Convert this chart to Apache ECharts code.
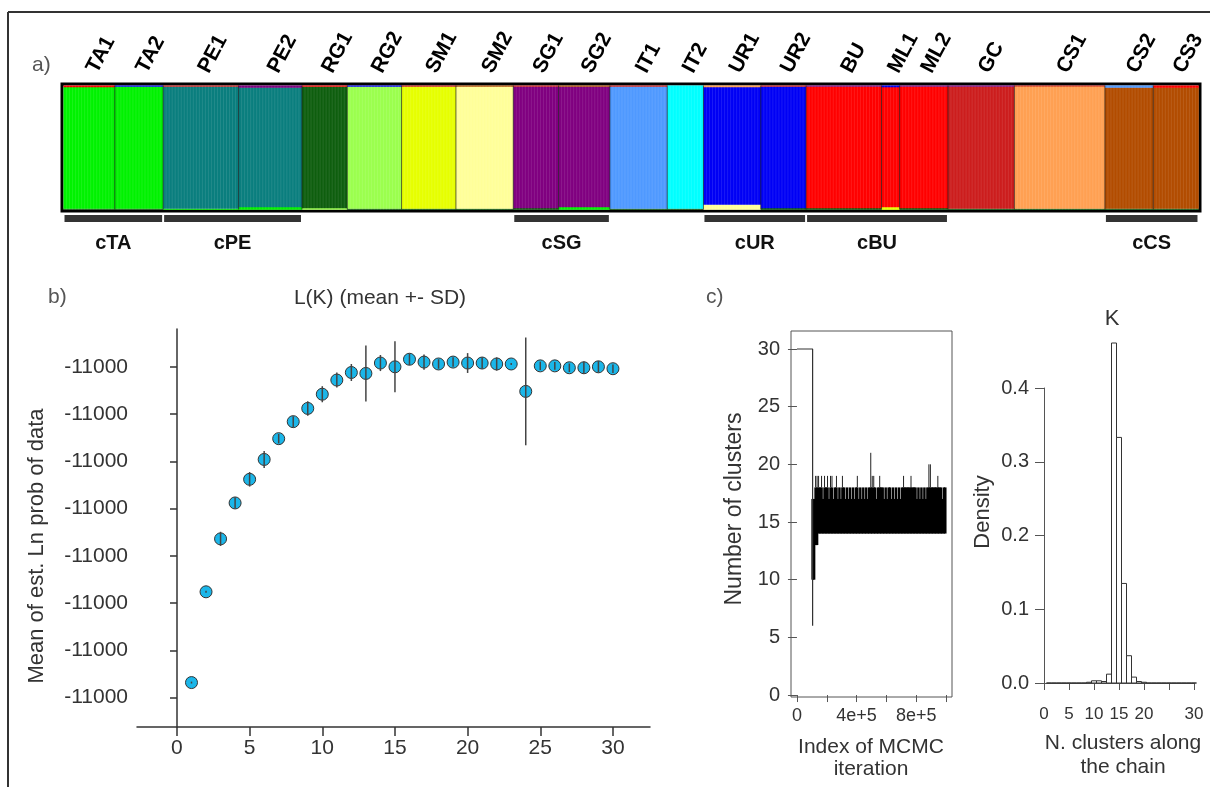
<!DOCTYPE html>
<html><head><meta charset="utf-8">
<script src="https://cdn.jsdelivr.net/npm/echarts@6/dist/echarts.min.js"></script>
<style>html,body{margin:0;padding:0;background:#fff}#c{width:1210px;height:787px}</style>
</head><body><div id="c"></div><script>
// ===== Panel a: STRUCTURE-like membership plot =====
const popNames = ['TA1','TA2','PE1','PE2','RG1','RG2','SM1','SM2','SG1','SG2','IT1','IT2','UR1','UR2','BU','ML1','ML2','GC','CS1','CS2','CS3'];
const popSizes = [17,16,25,21,15,18,18,19,15,17,19,12,19,15,25,6,16,22,30,16,15];
const popCluster = [0,0,1,1,2,3,4,5,6,6,7,8,9,9,10,10,10,11,12,13,13];
const popBottomCluster = [2,2,0,0,3,2,2,2,2,0,2,2,5,2,2,4,2,2,2,2,2];
const popBottomQ = [0.008,0.008,0.008,0.02,0.012,0.008,0.008,0.008,0.012,0.02,0.008,0.008,0.04,0.012,0.012,0.02,0.012,0.008,0.008,0.008,0.008];
const popTopCluster = [10,9,11,6,10,9,11,13,11,13,11,8,12,11,6,9,6,6,11,7,10];
const popTopQ = [0.012,0.008,0.008,0.015,0.008,0.008,0.008,0.008,0.008,0.008,0.008,0,0.012,0.008,0.008,0.012,0.008,0.008,0.005,0.015,0.015];
const clusterColors = ['#00f200','#0a7e7e','#0e5e0e','#9bff4e','#e6ff00','#ffff99','#800080','#4f99ff','#00ffff','#0000f5','#ff0000','#cc1d1d','#ffa052','#b24c00'];
const groupNames = ['cTA','cPE','cSG','cUR','cBU','cCS'];
const groupFirstPop = [0,2,8,12,14,19];
const groupLastPop = [1,3,9,13,16,20];

// ===== Panel b: L(K) mean +- SD =====
const kValues = [1,2,3,4,5,6,7,8,9,10,11,12,13,14,15,16,17,18,19,20,21,22,23,24,25,26,27,28,29,30];
const lnMean = [-11284,-11188,-11132,-11094,-11069,-11048,-11026,-11008,-10994,-10979,-10964,-10956,-10957,-10946,-10950,-10942,-10945,-10947,-10945,-10946,-10946,-10947,-10947,-10976,-10949,-10949,-10951,-10951,-10950,-10952];
const lnSD = [1,1,7.5,6,7.7,9,5,5.6,7.7,8.5,8,9,29.6,8.5,27,6,8,5,5,10.5,6,7,1,57,4.5,4,4.5,6.5,6,4.5];
const lnTicks = [-11300,-11250,-11200,-11150,-11100,-11050,-11000,-10950];
const kTicks = [0,5,10,15,20,25,30];

// ===== Panel c: MCMC trace of number of clusters =====
const traceStart = [[0,30],[105000,30],[105000,6]];
const traceBinFirst = 100000;
const traceBinStep = 10000;
const traceLow = [10,10,13,13,14,14,14,14,14,14,14,14,14,14,14,14,14,14,14,14,14,14,14,14,14,14,14,14,14,14,14,14,14,14,14,14,14,14,14,14,14,14,14,14,14,14,14,14,14,14,14,14,14,14,14,14,14,14,14,14,14,14,14,14,14,14,14,14,14,14,14,14,14,14,14,14,14,14,14,14,14,14,14,14,14,14,14,14,14,14];
const traceHigh = [16,17,19,19,19,18,19,17,19,18,19,17,19,19,17,18,19,17,18,17,19,18,17,18,17,18,17,18,17,18,19,17,18,17,18,17,18,17,18,21,19,19,18,17,18,19,18,18,17,18,17,18,18,17,18,17,18,17,18,17,18,19,18,18,18,18,19,18,18,18,17,18,17,18,17,18,17,18,20,20,18,18,18,18,19,18,18,17,18,18];
const traceBody = 18;
const iterTicks = [0,200000,400000,600000,800000,1000000];
const iterLabels = [0,400000,800000];
const clusterTicks = [0,5,10,15,20,25,30];

// ===== Panel c: histogram of K =====
const histK = [1,2,3,4,5,6,7,8,9,10,11,12,13,14,15,16,17,18,19,20,21,22,23,24,25,26,27,28,29,30];
const histDensity = [0,0,0,0,0,0,0,0,0.001,0.003,0.003,0.002,0.012,0.461,0.333,0.135,0.037,0.008,0.002,0.001,0,0,0,0,0,0,0,0,0,0];
const densTicks = [0,0.1,0.2,0.3,0.4];
const histTicks = [0,5,10,15,20,25,30];
const histLabels = [0,5,10,15,20,30];

// ---------- build ----------
const FONT = '"Liberation Sans", Arial, Helvetica, sans-serif';
const TXT = '#333';
const popStart = [];
let acc = 0;
popSizes.forEach(s => { popStart.push(acc); acc += s; });
const nInd = acc;
const structData = popNames.map((n, i) => [popStart[i], popStart[i] + popSizes[i], i]);
const groupData = groupNames.map((g, i) => [popStart[groupFirstPop[i]], popStart[groupLastPop[i]] + popSizes[groupLastPop[i]], i]);

function renderStruct(params, api) {
  const s = api.value(0), e = api.value(1), i = api.value(2);
  const x0 = api.coord([s, 0])[0], x1 = api.coord([e, 0])[0];
  const yB = api.coord([s, 0])[1], yT = api.coord([s, 1])[1];
  const segs = [[popBottomCluster[i], popBottomQ[i]], [popCluster[i], 1 - popBottomQ[i] - popTopQ[i]], [popTopCluster[i], popTopQ[i]]];
  let a = 0; const ch = [];
  segs.forEach(([c, q]) => {
    if (q <= 0) return;
    const yb = api.coord([s, a])[1], yt = api.coord([s, a + q])[1];
    ch.push({type: 'rect', shape: {x: x0, y: yt, width: x1 - x0 + 0.3, height: yb - yt + 0.3}, style: {fill: clusterColors[c]}});
    a += q;
  });
  for (let j = s + 1; j < e; j++) {
    const xj = api.coord([j, 0])[0];
    ch.push({type: 'line', shape: {x1: xj, y1: yB, x2: xj, y2: yT}, style: {stroke: 'rgba(255,255,255,0.10)', lineWidth: 1}});
  }
  if (i > 0) {
    ch.push({type: 'line', shape: {x1: x0, y1: yB, x2: x0, y2: yT}, style: {stroke: '#222', lineWidth: 1, opacity: 0.7}});
  }
  return {type: 'group', children: ch};
}
function renderPopLabel(params, api) {
  const s = api.value(0), e = api.value(1), i = api.value(2);
  const p = api.coord([(s + e) / 2, 1]);
  return {type: 'text', x: p[0] + 12, y: p[1] - 9, rotation: 62 * Math.PI / 180,
    style: {text: popNames[i], x: 0, y: 0, align: 'left', verticalAlign: 'bottom', fill: '#000', font: 'bold 21px ' + FONT}};
}
function renderGroup(params, api) {
  const s = api.value(0), e = api.value(1), i = api.value(2);
  const p0 = api.coord([s, 0]), p1 = api.coord([e, 0]);
  return {type: 'group', children: [
    {type: 'rect', shape: {x: p0[0] + 1, y: p0[1] + 5.5, width: p1[0] - p0[0] - 2, height: 7}, style: {fill: '#333'}},
    {type: 'text', x: (p0[0] + p1[0]) / 2, y: p0[1] + 33.5, style: {text: groupNames[i], align: 'center', verticalAlign: 'middle', fill: '#111', font: 'bold 20px ' + FONT}}
  ]};
}
function renderErr(params, api) {
  const a = api.coord([api.value(0), api.value(1)]), b = api.coord([api.value(0), api.value(2)]);
  return {type: 'line', shape: {x1: a[0], y1: a[1], x2: b[0], y2: b[1]}, style: {stroke: '#444', lineWidth: 1.5}};
}
function renderTrace(params, api) {
  const it = api.value(0), lo = api.value(1), hi = api.value(2);
  const x0 = api.coord([it, 0])[0], x1 = api.coord([it + traceBinStep, 0])[0];
  const top = Math.min(hi, traceBody);
  const yb = api.coord([it, lo])[1], yt = api.coord([it, top])[1];
  const yMid = api.coord([it, 17])[1];
  const ch = [];
  ch.push({type: 'rect', shape: {x: x0 - 0.5, y: Math.min(yt, yMid), width: x1 - x0 + 1, height: yb - Math.min(yt, yMid)}, style: {fill: '#000'}});
  if (hi > traceBody) {
    const xs = (x0 + x1) / 2;
    ch.push({type: 'line', shape: {x1: xs, y1: yt, x2: xs, y2: api.coord([it, hi])[1]}, style: {stroke: '#222', lineWidth: 1}});
  }
  return {type: 'group', children: ch};
}
function renderHist(params, api) {
  const k = api.value(0), d = api.value(1);
  const a = api.coord([k - 0.5, d]), b = api.coord([k + 0.5, 0]);
  return {type: 'rect', shape: {x: a[0], y: a[1], width: b[0] - a[0], height: b[1] - a[1]}, style: {fill: '#fff', stroke: '#333', lineWidth: 1}};
}

const axLine = {show: true, lineStyle: {color: '#333', width: 1.5}};
const axLabel = (size, extra) => Object.assign({color: TXT, fontSize: size, fontFamily: FONT}, extra || {});

const option = {
  animation: false,
  backgroundColor: '#fff',
  grid: [
    {left: 62, top: 84, width: 1138, height: 127, show: true, borderColor: '#000', borderWidth: 3, backgroundColor: 'transparent', outerBoundsMode: 'none'},
    {left: 137, top: 329, width: 513, height: 398, outerBoundsMode: 'none'},
    {left: 791, top: 331, width: 161, height: 366, show: true, borderColor: '#555', borderWidth: 1, backgroundColor: 'transparent', outerBoundsMode: 'none'},
    {left: 1044, top: 388, width: 150, height: 295, outerBoundsMode: 'none'}
  ],
  xAxis: [
    {gridIndex: 0, type: 'value', min: -0.5, max: nInd + 0.5, show: false},
    {gridIndex: 1, type: 'value', min: -2.75, max: 32.55, splitLine: {show: false}, axisLine: axLine,
      axisTick: {show: true, length: 9, customValues: kTicks, lineStyle: {color: '#333', width: 1.5}},
      axisLabel: axLabel(21, {margin: 11, customValues: kTicks})},
    {gridIndex: 2, type: 'value', min: -40000, max: 1040000, splitLine: {show: false}, axisLine: {show: false},
      axisTick: {show: true, length: 7, customValues: iterTicks, lineStyle: {color: '#555'}},
      axisLabel: axLabel(18, {margin: 10, customValues: iterLabels, formatter: v => v === 0 ? '0' : Number(v).toExponential()})},
    {gridIndex: 3, type: 'value', min: 0, max: 30, offset: 14, splitLine: {show: false}, axisLine: {show: true, lineStyle: {color: '#555', width: 1}},
      axisTick: {show: true, length: 7, customValues: histTicks, lineStyle: {color: '#555'}},
      axisLabel: axLabel(17, {margin: 9, customValues: histLabels})}
  ],
  yAxis: [
    {gridIndex: 0, type: 'value', min: -0.012, max: 1.012, show: false},
    {gridIndex: 1, type: 'value', min: -11331, max: -10910, splitLine: {show: false}, axisLine: axLine,
      axisTick: {show: true, length: 7, customValues: lnTicks, lineStyle: {color: '#333', width: 1.5}},
      axisLabel: axLabel(21, {margin: 9, customValues: lnTicks, formatter: v => String(Number(Number(v).toPrecision(2)))})},
    {gridIndex: 2, type: 'value', min: -0.17, max: 31.56, splitLine: {show: false}, axisLine: {show: false},
      axisTick: {show: true, length: 9, customValues: clusterTicks, lineStyle: {color: '#555'}},
      axisLabel: axLabel(20, {margin: 11, customValues: clusterTicks})},
    {gridIndex: 3, type: 'value', min: 0, max: 0.4, offset: 2, splitLine: {show: false}, axisLine: {show: true, lineStyle: {color: '#555', width: 1}},
      axisTick: {show: true, length: 9, customValues: densTicks, lineStyle: {color: '#555'}},
      axisLabel: axLabel(20, {margin: 13, customValues: densTicks, formatter: v => Number(v).toFixed(1)})}
  ],
  series: [
    {type: 'custom', xAxisIndex: 0, yAxisIndex: 0, renderItem: renderStruct, data: structData, z: 1},
    {type: 'custom', xAxisIndex: 0, yAxisIndex: 0, renderItem: renderPopLabel, data: structData, clip: false},
    {type: 'custom', xAxisIndex: 0, yAxisIndex: 0, renderItem: renderGroup, data: groupData, clip: false},
    {type: 'scatter', xAxisIndex: 1, yAxisIndex: 1, data: kValues.map((k, i) => [k, lnMean[i]]), symbol: 'circle', symbolSize: 12,
      itemStyle: {color: '#1bb6e9', borderColor: '#333', borderWidth: 1, opacity: 1}, z: 2},
    {type: 'custom', xAxisIndex: 1, yAxisIndex: 1, renderItem: renderErr, data: kValues.map((k, i) => [k, lnMean[i] - lnSD[i], lnMean[i] + lnSD[i]]), z: 3, clip: false},
    {type: 'line', xAxisIndex: 2, yAxisIndex: 2, data: traceStart, symbol: 'none', lineStyle: {color: '#333', width: 1.2}},
    {type: 'custom', xAxisIndex: 2, yAxisIndex: 2, renderItem: renderTrace, data: traceLow.map((lo, i) => [traceBinFirst + i * traceBinStep, lo, traceHigh[i]])},
    {type: 'custom', xAxisIndex: 3, yAxisIndex: 3, renderItem: renderHist, data: histK.map((k, i) => [k, histDensity[i]]), clip: false}
  ],
  graphic: [
    {type: 'line', shape: {x1: 8, y1: 12, x2: 1210, y2: 12}, style: {stroke: '#333', lineWidth: 2}},
    {type: 'line', shape: {x1: 8, y1: 12, x2: 8, y2: 787}, style: {stroke: '#333', lineWidth: 2}},
    {type: 'text', x: 32, y: 65, style: {text: 'a)', font: '21px ' + FONT, fill: '#555', verticalAlign: 'middle'}},
    {type: 'text', x: 48, y: 297, style: {text: 'b)', font: '21px ' + FONT, fill: '#555', verticalAlign: 'middle'}},
    {type: 'text', x: 706, y: 297, style: {text: 'c)', font: '21px ' + FONT, fill: '#555', verticalAlign: 'middle'}},
    {type: 'text', x: 380, y: 298, style: {text: 'L(K) (mean +- SD)', font: '21px ' + FONT, fill: TXT, align: 'center', verticalAlign: 'middle'}},
    {type: 'text', x: 37, y: 546, rotation: Math.PI / 2, style: {text: 'Mean of est. Ln prob of data', font: '22px ' + FONT, fill: TXT, align: 'center', verticalAlign: 'middle'}},
    {type: 'text', x: 735, y: 509, rotation: Math.PI / 2, style: {text: 'Number of clusters', font: '23px ' + FONT, fill: TXT, align: 'center', verticalAlign: 'middle'}},
    {type: 'text', x: 871, y: 747, style: {text: 'Index of MCMC', font: '21px ' + FONT, fill: TXT, align: 'center', verticalAlign: 'middle'}},
    {type: 'text', x: 871, y: 769, style: {text: 'iteration', font: '21px ' + FONT, fill: TXT, align: 'center', verticalAlign: 'middle'}},
    {type: 'text', x: 1112, y: 319, style: {text: 'K', font: '22px ' + FONT, fill: TXT, align: 'center', verticalAlign: 'middle'}},
    {type: 'text', x: 983, y: 512, rotation: Math.PI / 2, style: {text: 'Density', font: '22px ' + FONT, fill: TXT, align: 'center', verticalAlign: 'middle'}},
    {type: 'text', x: 1123, y: 743, style: {text: 'N. clusters along', font: '21px ' + FONT, fill: TXT, align: 'center', verticalAlign: 'middle'}},
    {type: 'text', x: 1123, y: 767, style: {text: 'the chain', font: '21px ' + FONT, fill: TXT, align: 'center', verticalAlign: 'middle'}}
  ]
};
const chart = echarts.init(document.getElementById('c'), null, {renderer: 'canvas'});
chart.setOption(option);
</script></body></html>
